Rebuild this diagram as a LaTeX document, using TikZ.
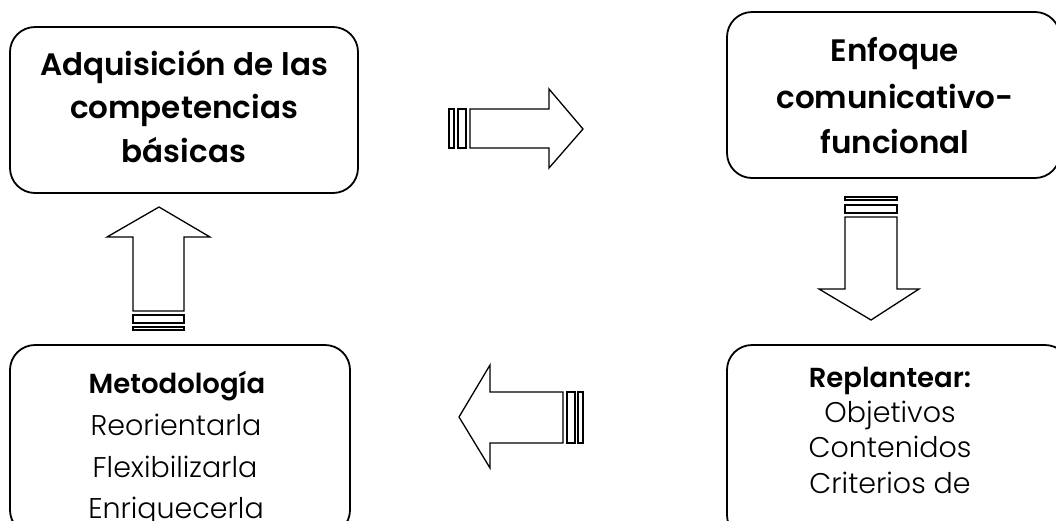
\documentclass[tikz,border=0pt]{standalone}
\usepackage{fontspec}
\setmainfont{Poppins Light}[BoldFont={Poppins SemiBold}]
\begin{document}
\begin{tikzpicture}[x=1pt,y=-1pt,
  box/.style={draw,line width=1.8pt,rounded corners=25pt},
  arr/.style={draw,line width=1.3pt,line join=miter,fill=white},
  bt/.style={anchor=base,inner sep=0pt,font=\fontsize{31}{31}\selectfont\bfseries},
  bt2/.style={anchor=base,inner sep=0pt,font=\fontsize{27.5}{27}\selectfont\bfseries},
  rt/.style={anchor=base,inner sep=0pt,font=\fontsize{28.5}{28}\selectfont}]
\useasboundingbox (0,0) rectangle (1056,520);
% boxes
\draw[box] (10,27) rectangle (358,193);
\draw[box] (727,12) rectangle (1060,178);
\draw[box] (10,345) rectangle (350,535);
\draw[box] (727,345) rectangle (1070,540);
% texts
\node[bt] (a1) at (184,75) {Adquisición de las};
\node[bt] (a2) at (184,118.5) {competencias};
\node[bt] (a3) at (184,162) {básicas};
\node[bt] (e1) at (895,61) {Enfoque};
\node[bt] (e2) at (895,108) {comunicativo-};
\node[bt] (e3) at (895,153) {funcional};
\node[bt2] (m1) at (177,393) {Metodología};
\node[rt] (m2) at (176,435) {Reorientarla};
\node[rt] (m3) at (175,477) {Flexibilizarla};
\node[rt] (m4) at (176,518) {Enriquecerla};
\node[bt2] (r1) at (890,387) {Replantear:};
\node[rt] (r2) at (890,422) {Objetivos};
\node[rt] (r3) at (890,457) {Contenidos};
\node[rt] (r4) at (890,493) {Criterios de};
% right arrow
\draw[arr] (449,109) rectangle (454,148);
\draw[arr] (458,109) rectangle (466,148);
\draw[arr] (470,109) -- (549,109) -- (549,89) -- (583,129) -- (549,168) -- (549,148) -- (470,148) -- cycle;
% down arrow
\draw[arr] (845,197) rectangle (897,200);
\draw[arr] (845,205) rectangle (897,213);
\draw[arr] (845,217) -- (845,289) -- (819,289) -- (871,320) -- (919,289) -- (897,289) -- (897,217) -- cycle;
% left arrow
\draw[arr] (578,392) rectangle (583,443);
\draw[arr] (567,392) rectangle (575,443);
\draw[arr] (563,392) -- (490,392) -- (490,365) -- (459,417) -- (490,468) -- (490,443) -- (563,443) -- cycle;
% up arrow
\draw[arr] (133,327) rectangle (184,330);
\draw[arr] (133,315) rectangle (184,323);
\draw[arr] (133,311) -- (133,237) -- (107,237) -- (159,207) -- (210,237) -- (184,237) -- (184,311) -- cycle;
\end{tikzpicture}
\end{document}
